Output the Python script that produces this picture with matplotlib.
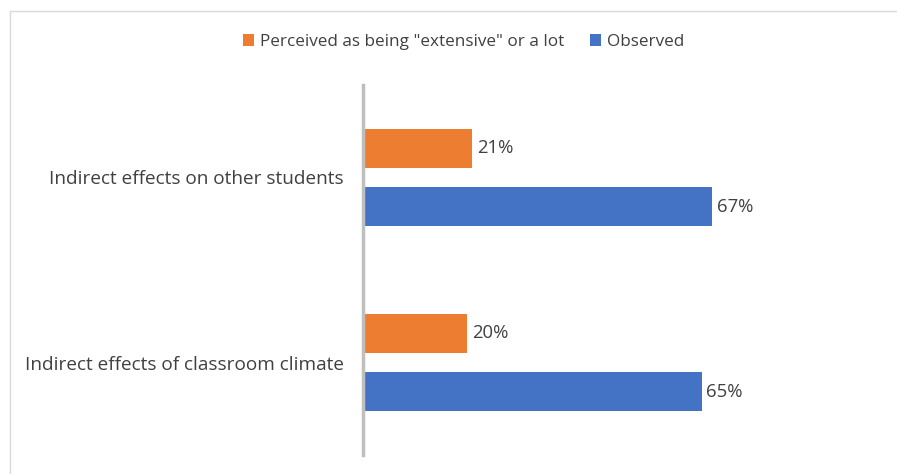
import numpy as np
import matplotlib.pyplot as plt
from matplotlib.patches import Rectangle

categories = ["Indirect effects on other students", "Indirect effects of classroom climate"]
perceived = [21, 20]
observed = [67, 65]
series_names = ['Perceived as being "extensive" or a lot', "Observed"]

orange = "#ED7D31"
blue = "#4472C4"
text_col = "#404040"

plt.rcParams['font.family'] = ["Open Sans", "DejaVu Sans"]

fig = plt.figure(figsize=(8.97, 4.74), dpi=100)
ax = fig.add_axes([363 / 897, 1 - 455 / 474, 521 / 897, 370 / 474])

# chart frame (cropped at right and bottom)
fig.patches.append(Rectangle((10 / 897, -0.1), 1.2, 1 - 11 / 474 + 0.1,
                             transform=fig.transFigure, fill=False,
                             edgecolor="#D9D9D9", linewidth=1))

y = np.arange(len(categories))
h = 0.21
off = 0.158
b1 = ax.barh(y - off, perceived, height=h, color=orange, label=series_names[0])
b2 = ax.barh(y + off, observed, height=h, color=blue, label=series_names[1])

for bars in (b1, b2):
    for rect in bars:
        w = rect.get_width()
        ax.text(w + 0.9, rect.get_y() + rect.get_height() / 2, f"{w:.0f}%",
                va="center", ha="left", fontsize=13.3, color=text_col)

ax.set_xlim(0, 100)
ax.set_ylim(1.5, -0.5)
ax.set_yticks(y)
ax.set_yticklabels(categories, fontsize=13.7, color=text_col)
ax.tick_params(axis="y", length=0, pad=14)
ax.set_xticks([])
for s in ["top", "right", "bottom"]:
    ax.spines[s].set_visible(False)
ax.spines["left"].set_color("#BFBFBF")
ax.spines["left"].set_linewidth(2.5)

fig.legend(handles=[b1, b2], labels=series_names, loc="center",
           bbox_to_anchor=(464 / 897, 1 - 42 / 474), ncol=2, frameon=False,
           fontsize=12.3, handlelength=0.65, handleheight=0.65, handletextpad=0.35,
           columnspacing=1.5, labelcolor=text_col)

fig.savefig("out.png", dpi=100)
